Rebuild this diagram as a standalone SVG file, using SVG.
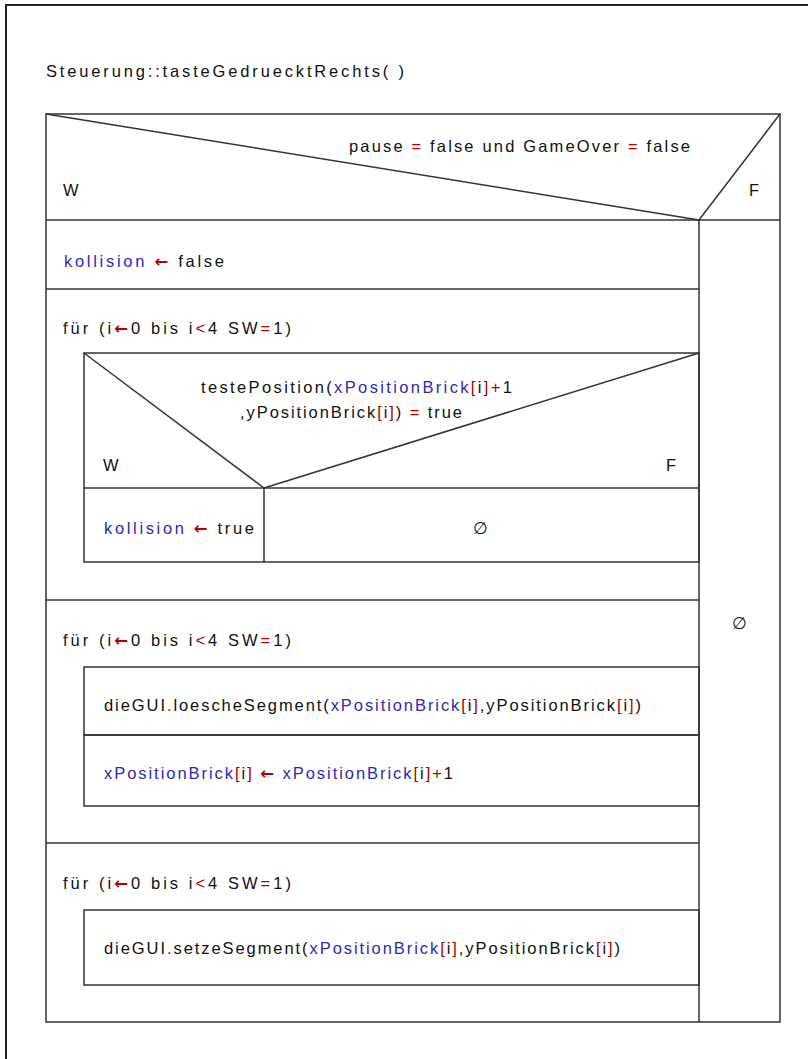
<svg xmlns="http://www.w3.org/2000/svg" width="808" height="1059" viewBox="0 0 808 1059">
  <style>
    .ln { fill: none; stroke: #333; stroke-width: 1.5; }
    text { font-family: "Liberation Sans", Arial, sans-serif; font-size: 16.5px; fill: #111; }
    .b { fill: #2b2bb5; }
    .r { fill: #b00000; }
    .ar { fill: #b00000; font-family: "DejaVu Sans", sans-serif; font-weight: bold; }
    .mid { text-anchor: middle; }
  </style>

  <rect width="808" height="1059" fill="#fff"/>
  <!-- page frame -->
  <path d="M6,1059 V5 H808" fill="none" stroke="#222" stroke-width="2"/>

  <text id="title" x="46" y="77" textLength="358" lengthAdjust="spacing">Steuerung::tasteGedruecktRechts( )</text>

  <!-- outer alternative: pause = false und GameOver = false -->
  <g id="ifPauseGameOver">
    <rect class="ln" x="46" y="114" width="734" height="908"/>
    <line class="ln" x1="46" y1="220" x2="780" y2="220"/>
    <line class="ln" x1="46" y1="114" x2="699" y2="220"/>
    <line class="ln" x1="699" y1="220" x2="780" y2="114"/>
    <line class="ln" x1="699" y1="220" x2="699" y2="1022"/>
    <text x="349" y="152" textLength="341" lengthAdjust="spacing">pause <tspan class="r">=</tspan> false und GameOver <tspan class="r">=</tspan> false</text>
    <text x="63" y="196">W</text>
    <text x="749" y="196">F</text>
    <text class="mid" x="739" y="629">∅</text>
  </g>

  <!-- kollision ← false -->
  <g id="assignKollision">
    <line class="ln" x1="46" y1="289" x2="699" y2="289"/>
    <text x="64" y="267" textLength="160" lengthAdjust="spacing"><tspan class="b">kollision</tspan> <tspan class="ar">←</tspan> false</text>
  </g>

  <!-- first loop: collision test -->
  <g id="loopTest">
    <line class="ln" x1="46" y1="600" x2="699" y2="600"/>
    <text x="63" y="334" textLength="228" lengthAdjust="spacing">für (i<tspan class="ar">←</tspan>0 bis i<tspan class="r">&lt;</tspan>4 SW<tspan class="r">=</tspan>1)</text>
  </g>

  <g id="ifTestePosition">
    <rect class="ln" x="84" y="353" width="615" height="209"/>
    <line class="ln" x1="84" y1="488" x2="699" y2="488"/>
    <line class="ln" x1="84" y1="353" x2="264" y2="488"/>
    <line class="ln" x1="264" y1="488" x2="699" y2="353"/>
    <line class="ln" x1="264" y1="488" x2="264" y2="562"/>
    <text x="201" y="393" textLength="311" lengthAdjust="spacing">testePosition(<tspan class="b">xPositionBrick</tspan><tspan class="r">[</tspan>i<tspan class="r">]+</tspan>1</text>
    <text x="240" y="418" textLength="222" lengthAdjust="spacing">,yPositionBrick<tspan class="r">[</tspan>i<tspan class="r">]</tspan>) <tspan class="r">=</tspan> true</text>
    <text x="103" y="471">W</text>
    <text x="666" y="471">F</text>
  </g>

  <g id="setKollisionTrue">
    <text x="104" y="534" textLength="150" lengthAdjust="spacing"><tspan class="b">kollision</tspan> <tspan class="ar">←</tspan> true</text>
  </g>

  <g id="emptyElse">
    <text class="mid" x="480" y="534">∅</text>
  </g>

  <!-- second loop: erase and move -->
  <g id="loopMove">
    <line class="ln" x1="46" y1="843" x2="699" y2="843"/>
    <text x="63" y="646" textLength="228" lengthAdjust="spacing">für (i<tspan class="ar">←</tspan>0 bis i<tspan class="r">&lt;</tspan>4 SW<tspan class="r">=</tspan>1)</text>
  </g>

  <g id="loescheSegment">
    <rect class="ln" x="84" y="667" width="615" height="68"/>
    <text x="104" y="711" textLength="537" lengthAdjust="spacing">dieGUI<tspan class="r">.</tspan>loescheSegment(<tspan class="b">xPositionBrick</tspan><tspan class="r">[</tspan>i<tspan class="r">]</tspan>,yPositionBrick<tspan class="r">[</tspan>i<tspan class="r">]</tspan>)</text>
  </g>

  <g id="incrementX">
    <rect class="ln" x="84" y="735" width="615" height="71"/>
    <text x="104" y="779" textLength="349" lengthAdjust="spacing"><tspan class="b">xPositionBrick</tspan><tspan class="r">[</tspan>i<tspan class="r">]</tspan> <tspan class="ar">←</tspan> <tspan class="b">xPositionBrick</tspan><tspan class="r">[</tspan>i<tspan class="r">]+</tspan>1</text>
  </g>

  <!-- third loop: redraw -->
  <g id="loopDraw">
    <text x="63" y="889" textLength="228" lengthAdjust="spacing">für (i<tspan class="ar">←</tspan>0 bis i<tspan class="r">&lt;</tspan>4 SW<tspan class="r">=</tspan>1)</text>
  </g>

  <g id="setzeSegment">
    <rect class="ln" x="84" y="910" width="615" height="75"/>
    <text x="104" y="954" textLength="516" lengthAdjust="spacing">dieGUI<tspan class="r">.</tspan>setzeSegment(<tspan class="b">xPositionBrick</tspan><tspan class="r">[</tspan>i<tspan class="r">]</tspan>,yPositionBrick<tspan class="r">[</tspan>i<tspan class="r">]</tspan>)</text>
  </g>
</svg>
